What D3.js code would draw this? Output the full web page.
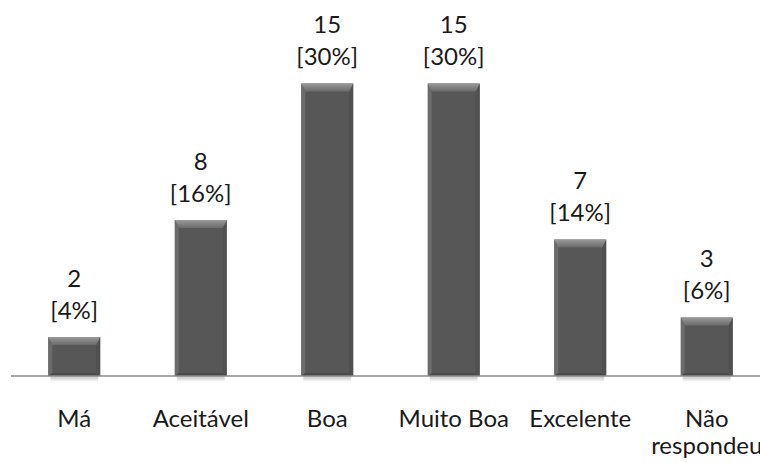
<!DOCTYPE html>
<html><head><meta charset="utf-8">
<script src="https://cdn.jsdelivr.net/npm/d3@7"></script>
<style>body{margin:0;background:#fff;}svg{display:block;}</style>
</head><body>
<svg id="c" width="760" height="462"></svg>
<script>
const categories = ["Má", "Aceitável", "Boa", "Muito Boa", "Excelente", "Não respondeu"];
const counts = [2, 8, 15, 15, 7, 3];
const percents = ["[4%]", "[16%]", "[30%]", "[30%]", "[14%]", "[6%]"];

const svg = d3.select("#c");
const W = 760, H = 462;
const left = 11, right = 770, baseY = 376, topY = 83.5;
const x = d3.scaleBand().domain(categories).range([left, right]).paddingInner(0.59).paddingOuter(0.295);
const y = d3.scaleLinear().domain([0, 15]).range([baseY, topY]);

const defs = svg.append("defs");
const g1 = defs.append("linearGradient").attr("id","topbev").attr("x1",0).attr("y1",0).attr("x2",0).attr("y2",1);
g1.append("stop").attr("offset","0%").attr("stop-color","#9a9a9a");
g1.append("stop").attr("offset","100%").attr("stop-color","#6a6a6a");
const g2 = defs.append("linearGradient").attr("id","shadow").attr("x1",0).attr("y1",0).attr("x2",0).attr("y2",1);
g2.append("stop").attr("offset","0%").attr("stop-color","#000").attr("stop-opacity",0.25);
g2.append("stop").attr("offset","100%").attr("stop-color","#000").attr("stop-opacity",0);

const font = "Lato, 'Open Sans', sans-serif";
const fs = 24;
const bw = x.bandwidth();

const bars = svg.append("g").selectAll("g").data(categories).join("g");
bars.each(function(c, i){
  const g = d3.select(this);
  const x0 = x(c), x1 = x0 + bw, y0 = y(counts[i]), y1 = baseY;
  const tb = 8, sb = 4, bb = 3;
  g.append("rect").attr("x", x0+2).attr("y", y1).attr("width", bw-4).attr("height", 6).attr("fill","url(#shadow)");
  g.append("rect").attr("x", x0).attr("y", y0).attr("width", bw).attr("height", y1-y0).attr("fill", "#575757");
  g.append("path").attr("d", `M${x0},${y0}L${x0+sb},${y0+tb}L${x0+sb},${y1-bb}L${x0},${y1}Z`).attr("fill","#6b6b6b");
  g.append("path").attr("d", `M${x1},${y0}L${x1-sb},${y0+tb}L${x1-sb},${y1-bb}L${x1},${y1}Z`).attr("fill","#505050");
  g.append("path").attr("d", `M${x0},${y1}L${x0+sb},${y1-bb}L${x1-sb},${y1-bb}L${x1},${y1}Z`).attr("fill","#4a4a4a");
  g.append("path").attr("d", `M${x0},${y0}L${x1},${y0}L${x1-sb},${y0+tb}L${x0+sb},${y0+tb}Z`).attr("fill","url(#topbev)");
  g.append("text").attr("x", x0+bw/2).attr("y", y0-50.5).attr("text-anchor","middle")
    .attr("font-family", font).attr("font-size", fs).attr("fill","#1a1a1a").text(counts[i]);
  g.append("text").attr("x", x0+bw/2).attr("y", y0-18.5).attr("text-anchor","middle")
    .attr("font-family", font).attr("font-size", fs).attr("fill","#1a1a1a").text(percents[i]);
});

svg.append("line").attr("x1", left).attr("x2", W).attr("y1", baseY).attr("y2", baseY)
  .attr("stroke", "#8c8c8c").attr("stroke-width", 1.5);

const xa = svg.append("g").attr("transform", `translate(0,${baseY})`)
  .call(d3.axisBottom(x).tickSize(0).tickPadding(0));
xa.select(".domain").remove();
xa.selectAll(".tick text").remove();
xa.selectAll(".tick").each(function(c){
  const t = d3.select(this).append("text").attr("text-anchor","middle")
    .attr("font-family", font).attr("font-size", fs).attr("fill","#1a1a1a");
  const words = c === "Não respondeu" ? ["Não", "respondeu"] : [c];
  words.forEach((w, k) => t.append("tspan").attr("x", 0).attr("y", 51 + k*27).text(w));
});
</script>
</body></html>
